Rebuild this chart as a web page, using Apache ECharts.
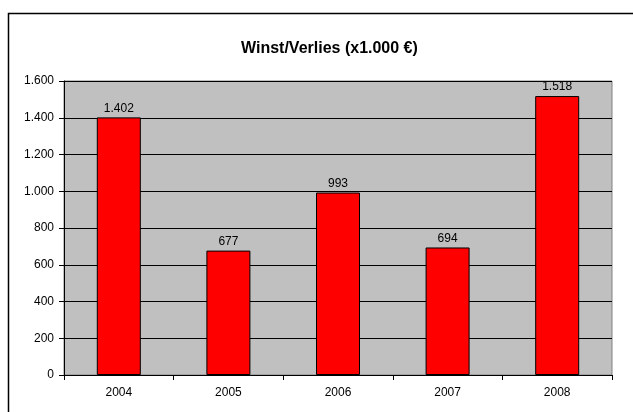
<!DOCTYPE html>
<html><head><meta charset="utf-8">
<script src="https://cdn.jsdelivr.net/npm/echarts@6/dist/echarts.min.js"></script>
<style>html,body{margin:0;padding:0;background:#fff}#c{width:633px;height:412px}</style>
</head><body><div id="c"></div>
<script>
const categories = ['2004','2005','2006','2007','2008'];
const values = [1402, 677, 993, 694, 1518];
const yTicks = [0, 200, 400, 600, 800, 1000, 1200, 1400, 1600];

function fmt(v){ return String(v).replace(/\B(?=(\d{3})+(?!\d))/g, '.'); }

const chart = echarts.init(document.getElementById('c'), null, {renderer:'canvas'});
chart.setOption({
  animation:false,
  backgroundColor:'#fff',
  title:{ text:'Winst/Verlies (x1.000 €)', left:236, top:36,
    textStyle:{fontFamily:'Liberation Sans, Arial', fontSize:16, fontWeight:'bold', color:'#000'} },
  graphic:[
    {type:'rect', shape:{x:8.5,y:13.5,width:640,height:420}, style:{fill:null, stroke:'#000', lineWidth:1.5}, z:-1}
  ],
  grid:{ left:64, top:81, right:21, bottom:37, show:true, backgroundColor:'#C0C0C0', borderColor:'#808080', borderWidth:1 },
  xAxis:{ type:'category', data:categories,
    axisLine:{lineStyle:{color:'#000', width:1}},
    axisTick:{show:true, alignWithLabel:false, length:5, lineStyle:{color:'#000'}},
    axisLabel:{color:'#000', fontFamily:'Liberation Sans, Arial', fontSize:12, margin:12} },
  yAxis:{ type:'value', min:yTicks[0], max:yTicks[yTicks.length-1], interval:200,
    axisLine:{show:true, lineStyle:{color:'#000', width:1}},
    axisTick:{show:true, length:5, lineStyle:{color:'#000'}},
    splitLine:{show:true, lineStyle:{color:'#000', width:1}},
    axisLabel:{color:'#000', fontFamily:'Liberation Sans, Arial', fontSize:12, margin:10, formatter:v=>fmt(v)} },
  series:[{ type:'bar', data:values, barWidth:44,
    itemStyle:{color:'#FF0000', borderColor:'#000', borderWidth:1},
    label:{show:true, position:'top', distance:3, color:'#000', fontFamily:'Liberation Sans, Arial', fontSize:12, formatter:p=>fmt(p.value)} }]
});
</script></body></html>
